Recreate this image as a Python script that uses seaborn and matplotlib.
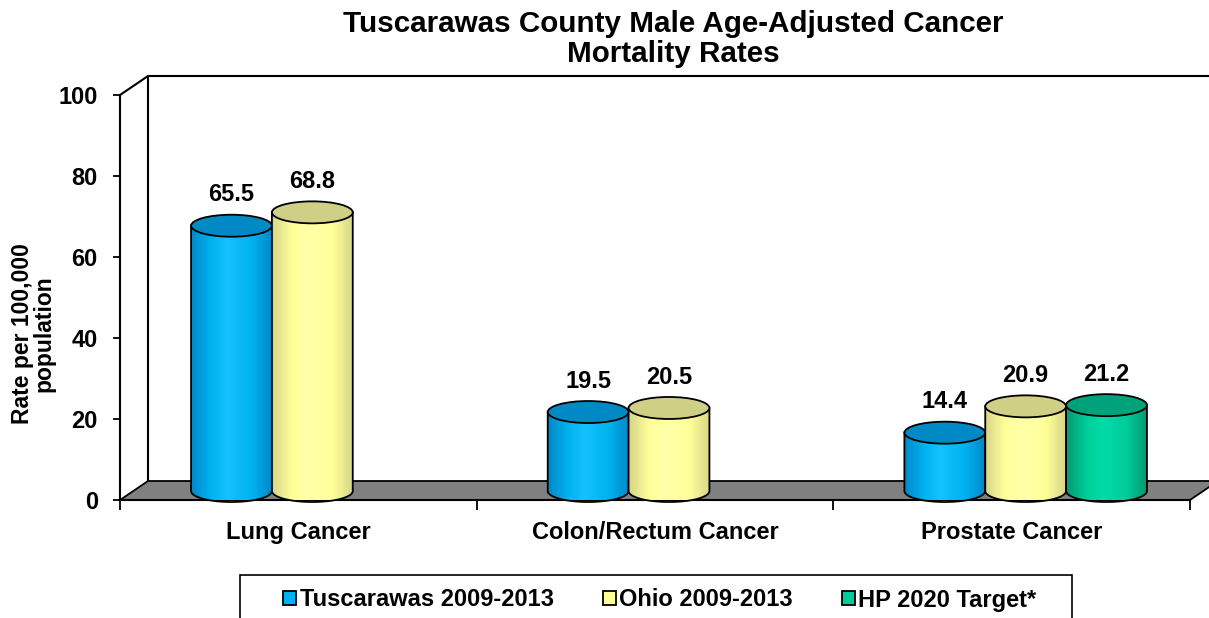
import numpy as np
import pandas as pd
import matplotlib
matplotlib.use("Agg")
import matplotlib.pyplot as plt
import matplotlib.transforms as mtransforms
from matplotlib.patches import Ellipse, PathPatch, Polygon, Patch, Rectangle
from matplotlib.path import Path
from matplotlib.colors import LinearSegmentedColormap
import seaborn as sns

# ---------------- data ----------------
categories = ["Lung Cancer", "Colon/Rectum Cancer", "Prostate Cancer"]
series = ["Tuscarawas 2009-2013", "Ohio 2009-2013", "HP 2020 Target*"]
tuscarawas = [65.5, 19.5, 14.4]
ohio = [68.8, 20.5, 20.9]
hp2020 = [np.nan, np.nan, 21.2]
yticks = [0, 20, 40, 60, 80, 100]
title = "Tuscarawas County Male Age-Adjusted Cancer\nMortality Rates"
ylabel = "Rate per 100,000\npopulation"

# ---------------- styles ----------------
mid_colors = ["#00B2F0", "#FFFF99", "#00CC99"]
dark_colors = ["#0088C8", "#D6D68A", "#009A72"]
light_colors = ["#14C2FF", "#FFFFA8", "#00DCA8"]
top_colors = ["#0089C4", "#CFCF86", "#00A27C"]

sns.set_theme(style="white")
plt.rcParams["font.family"] = ["Liberation Sans", "DejaVu Sans"]
plt.rcParams["font.weight"] = "bold"
for k in ["text.color", "axes.labelcolor", "xtick.color", "ytick.color"]:
    plt.rcParams[k] = "black"

rows = []
for cat, a, b, c in zip(categories, tuscarawas, ohio, hp2020):
    rows.append({"cat": cat, "series": series[0], "val": a})
    rows.append({"cat": cat, "series": series[1], "val": b})
    rows.append({"cat": cat, "series": series[2], "val": c})
df = pd.DataFrame(rows)

W, H = 1209, 618
fig = plt.figure(figsize=(W / 100, H / 100), dpi=100)
ax = fig.add_axes([120 / W, (H - 500) / H, 1070 / W, 405 / H])

sns.barplot(data=df, x="cat", y="val", hue="series", order=categories,
            hue_order=series, palette=mid_colors, width=0.68, ax=ax,
            legend=False, errorbar=None, saturation=1)

ax.set_xlim(-0.5, 2.5)
ax.set_ylim(0, 100)

# 3D offsets (pixels)
back_dx, back_dy = 28, 19
mid_dx, mid_dy = 14, 9
trans_mid = ax.transData + mtransforms.ScaledTranslation(mid_dx / 100, mid_dy / 100, fig.dpi_scale_trans)

def disp(pt, dx=0, dy=0):
    p = ax.transAxes.transform(pt)
    return (p[0] + dx, p[1] + dy)

ident = mtransforms.IdentityTransform()
floor = Polygon([disp((0, 0)), disp((1, 0)), disp((1, 0), back_dx, back_dy),
                 disp((0, 0), back_dx, back_dy)], closed=True,
                facecolor="#808080", edgecolor="black", lw=1.3,
                transform=ident, clip_on=False, zorder=1)
ax.add_artist(floor)
for (p1, p2) in [
    (disp((0, 0), back_dx, back_dy), disp((0, 1), back_dx, back_dy)),
    (disp((0, 1)), disp((0, 1), back_dx, back_dy)),
    (disp((0, 1), back_dx, back_dy), disp((1, 1), back_dx, back_dy)),
]:
    ln = plt.Line2D([p1[0], p2[0]], [p1[1], p2[1]], color="black", lw=1.5,
                    transform=ident, zorder=0.9, clip_on=False)
    ax.add_artist(ln)

# ---------------- cylinders ----------------
px_per_unit = 405 / 100.0
ell_h = 22 / px_per_unit  # ellipse height in data units

bars = []
for si, cont in enumerate(ax.containers):
    for rect in cont:
        h = rect.get_height()
        rect.set_visible(False)
        if h is None or np.isnan(h) or h == 0:
            continue
        bars.append((rect.get_x(), rect.get_width(), h, si))

bars.sort(key=lambda b: b[0])
for k, (x0, w, h, si) in enumerate(bars):
    z = 3 + k * 0.1
    x1 = x0 + w
    xc = x0 + w / 2
    cmap = LinearSegmentedColormap.from_list(
        "c%d" % si,
        [(0, dark_colors[si]), (0.25, mid_colors[si]), (0.45, light_colors[si]),
         (0.75, mid_colors[si]), (1, dark_colors[si])])
    t = np.linspace(np.pi, 2 * np.pi, 60)
    arc = np.column_stack([xc + (w / 2) * np.cos(t), (ell_h / 2) * np.sin(t)])
    verts = np.vstack([[x0, h], arc, [x1, h], [x0, h]])
    codes = [Path.MOVETO] + [Path.LINETO] * (len(verts) - 2) + [Path.CLOSEPOLY]
    body = PathPatch(Path(verts, codes), transform=trans_mid, facecolor="none",
                     edgecolor="black", lw=1.3, zorder=z + 0.02, clip_on=False)
    grad = np.linspace(0, 1, 256).reshape(1, -1)
    im = ax.imshow(grad, cmap=cmap, extent=[x0, x1, -ell_h / 2, h],
                   aspect="auto", transform=trans_mid, zorder=z + 0.01,
                   interpolation="bilinear")
    im.set_clip_path(body)
    ax.add_patch(body)
    top = Ellipse((xc, h), w, ell_h, transform=trans_mid, facecolor=top_colors[si],
                  edgecolor="black", lw=1.3, zorder=z + 0.03, clip_on=False)
    ax.add_patch(top)
    ax.annotate(f"{h:.1f}", xy=(xc, h), xycoords=trans_mid, xytext=(0, 14),
                textcoords="offset points", ha="center", va="bottom",
                fontsize=17, fontweight="bold", color="black", zorder=10,
                annotation_clip=False)

ax.set_xlim(-0.5, 2.5)
ax.set_ylim(0, 100)

# ---------------- axes styling ----------------
for s in ["top", "right"]:
    ax.spines[s].set_visible(False)
for s in ["left", "bottom"]:
    ax.spines[s].set_color("black")
    ax.spines[s].set_linewidth(1.5)
    ax.spines[s].set_zorder(2)
ax.set_yticks(yticks)
ax.set_yticklabels([str(v) for v in yticks], fontsize=17, fontweight="bold")
ax.tick_params(axis="y", length=5, width=1.3, direction="out", pad=11, left=True)
ax.set_xticks(range(len(categories)))
ax.set_xticklabels(categories, fontsize=17, fontweight="bold")
ax.set_xticks([-0.5, 0.5, 1.5, 2.5], minor=True)
ax.tick_params(axis="x", which="major", length=0, pad=15)
ax.tick_params(axis="x", which="minor", length=7, width=1.3, direction="out", bottom=True, color="black")
ax.set_xlabel("")
ax.set_ylabel("")
ax.grid(False)
ax.set_facecolor("none")

fig.text(33 / W, 1 - 334 / H, ylabel, rotation=90, ha="center", va="center",
         multialignment="center", fontsize=16.5, fontweight="bold", linespacing=0.92)
fig.text(673 / W, 1 - 39 / H, title, ha="center", va="center",
         multialignment="center", fontsize=21.3, fontweight="bold", linespacing=1.12)

# legend
handles = [Patch(facecolor=c, edgecolor="black", lw=1.3) for c in mid_colors]
leg = fig.legend(handles, series, loc="center", bbox_to_anchor=(660 / W, 1 - 600 / H),
                 ncol=3, frameon=False, prop={"weight": "bold", "size": 17},
                 handlelength=0.55, handleheight=0.55, handletextpad=0.15,
                 columnspacing=2.07, borderpad=0, borderaxespad=0)
frame = Rectangle((240 / W, -0.05), (1072 - 240) / W, (1 - 575 / H) + 0.05,
                  transform=fig.transFigure, facecolor="none", edgecolor="black",
                  lw=1.2, clip_on=False)
fig.add_artist(frame)

fig.savefig("out.png", dpi=100)
